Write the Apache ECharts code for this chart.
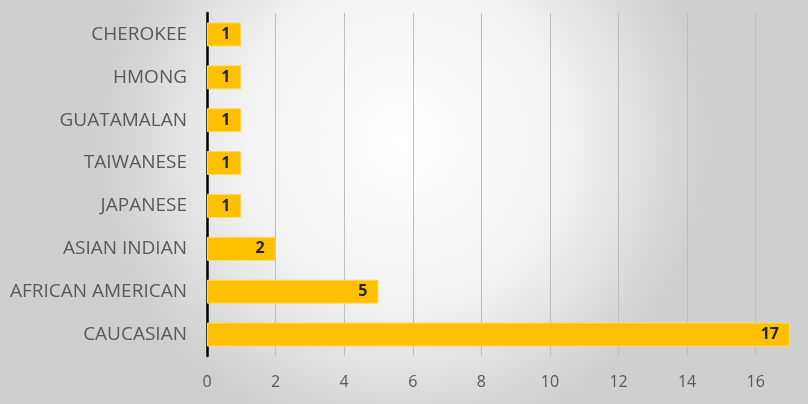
<!DOCTYPE html>
<html><head><meta charset="utf-8">
<script src="https://cdn.jsdelivr.net/npm/echarts@6/dist/echarts.min.js"></script>
<style>html,body{margin:0;padding:0;}#c{width:808px;height:404px;}</style>
</head><body><div id="c"></div>
<script>
var categories = ['CAUCASIAN','AFRICAN AMERICAN','ASIAN INDIAN','JAPANESE','TAIWANESE','GUATAMALAN','HMONG','CHEROKEE'];
var values = [17,5,2,1,1,1,1,1];
var xTicks = [0,2,4,6,8,10,12,14,16];

var chart = echarts.init(document.getElementById('c'));
chart.setOption({
  backgroundColor: {
    type: 'radial', x: 0.5, y: 0.35, r: 0.75,
    colorStops: [{offset:0,color:'#ffffff'},{offset:0.55,color:'#f2f2f2'},{offset:1,color:'#cfcfcf'}]
  },
  animation: false,
  grid: {left: 207, right: 18, top: 13, bottom: 48},
  xAxis: {
    type: 'value', min: 0, max: 17, interval: 2,
    axisLine: {show: false}, axisTick: {show: false},
    splitLine: {show: true, showMinLine: false, showMaxLine: false, lineStyle: {color: '#bdbdbd', width: 1}},
    axisLabel: {
      showMaxLabel: false, margin: 18, color: '#595959', fontSize: 16, fontFamily: 'Open Sans',
      formatter: function(v){ return xTicks.indexOf(v) >= 0 ? String(v) : ''; }
    }
  },
  yAxis: {
    type: 'category', data: categories,
    axisLine: {show: true, lineStyle: {color: '#000', width: 2.5}},
    axisTick: {show: false},
    axisLabel: {margin: 20, color: '#595959', fontSize: 19, fontFamily: 'Open Sans'}
  },
  series: [{
    type: 'bar', data: values, barCategoryGap: '44%',
    itemStyle: {color: '#FFC000', borderColor: '#FFD966', borderWidth: 1},
    label: {show: true, position: 'insideRight', distance: 11, color: '#262626', fontWeight: 'bold', fontSize: 16, fontFamily: 'Open Sans'}
  }]
});
</script></body></html>
